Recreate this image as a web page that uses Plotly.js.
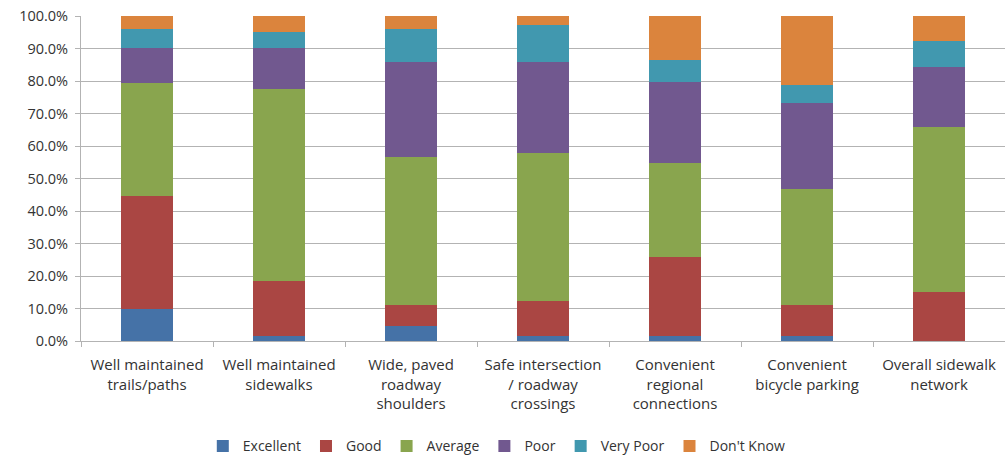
<!DOCTYPE html>
<html>
<head>
<meta charset="utf-8">
<script src="https://cdn.plot.ly/plotly-3.0.1.min.js"></script>
<style>html,body{margin:0;padding:0;background:#fff;}#chart{width:1005px;height:457px;}</style>
</head>
<body>
<div id="chart"></div>
<script>
var categories = [
  "Well maintained<br>trails/paths",
  "Well maintained<br>sidewalks",
  "Wide, paved<br>roadway<br>shoulders",
  "Safe intersection<br>/ roadway<br>crossings",
  "Convenient<br>regional<br>connections",
  "Convenient<br>bicycle parking",
  "Overall sidewalk<br>network"
];
var seriesNames = ["Excellent", "Good", "Average", "Poor", "Very Poor", "Don't Know"];
var excellent = [9.8, 1.6, 4.6, 1.6, 1.6, 1.6, 0.0];
var good      = [34.8, 16.8, 6.6, 10.8, 24.3, 9.6, 15.2];
var average   = [34.9, 59.0, 45.4, 45.3, 28.8, 35.7, 50.7];
var poor      = [10.7, 12.8, 29.1, 28.0, 25.1, 26.2, 18.5];
var veryPoor  = [5.9, 4.8, 10.4, 11.4, 6.6, 5.6, 8.0];
var dontKnow  = [3.9, 5.0, 3.9, 2.9, 13.6, 21.3, 7.6];
var colors = ["#4572A7", "#AA4643", "#89A54E", "#71588F", "#4198AF", "#DB843D"];

var values = [excellent, good, average, poor, veryPoor, dontKnow];
var traces = values.map(function (v, i) {
  return {
    type: "bar",
    name: seriesNames[i],
    x: categories,
    y: v,
    marker: {color: colors[i], line: {width: 0}},
    hoverinfo: "name+y"
  };
});

var font = "'Open Sans', 'Noto Sans', sans-serif";
var txt = "#333333";
var layout = {
  width: 1005,
  height: 457,
  barmode: "stack",
  bargap: 0.6,
  paper_bgcolor: "#ffffff",
  plot_bgcolor: "#ffffff",
  margin: {l: 81, r: 0, t: 16, b: 116, autoexpand: false},
  font: {family: font, size: 14, color: txt},
  showlegend: true,
  legend: {
    orientation: "h",
    x: 0.45,
    xanchor: "center",
    y: -0.275,
    yanchor: "top",
    font: {family: font, size: 14, color: txt},
    traceorder: "normal",
    itemwidth: 30,
    tracegroupgap: 0
  },
  xaxis: {
    type: "category",
    automargin: false,
    showline: true,
    linecolor: "#b3b3b3",
    linewidth: 1,
    ticks: "outside",
    tickson: "boundaries",
    ticklen: 5,
    tickcolor: "#b3b3b3",
    showgrid: false,
    ticklabelstandoff: 10,
    tickfont: {family: font, size: 15, color: txt},
    tickangle: 0
  },
  yaxis: {
    automargin: false,
    range: [0, 100],
    dtick: 10,
    ticksuffix: "%",
    tickformat: ".1f",
    showline: true,
    linecolor: "#b3b3b3",
    linewidth: 1,
    ticks: "outside",
    ticklen: 5,
    tickcolor: "#b3b3b3",
    gridcolor: "#b3b3b3",
    gridwidth: 1,
    zeroline: false,
    ticklabelstandoff: 4,
    tickfont: {family: font, size: 14.5, color: txt}
  }
};

Plotly.newPlot("chart", traces, layout, {displayModeBar: false, staticPlot: true});
</script>
</body>
</html>
